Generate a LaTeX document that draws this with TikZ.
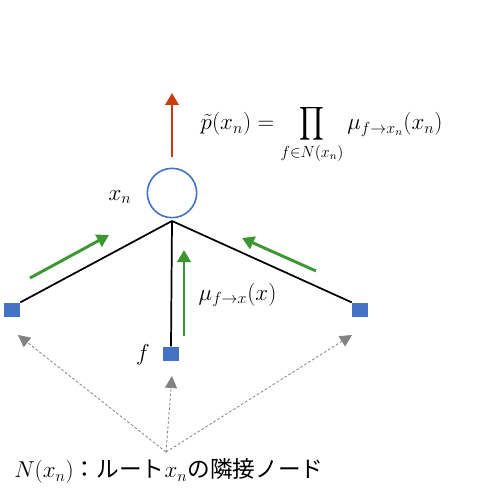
\documentclass[tikz,border=0pt]{standalone}
\usepackage{fontspec}
\usepackage{graphicx}
\newfontfamily\cjk{Noto Sans CJK JP}
\usetikzlibrary{arrows.meta}
\definecolor{nodeblue}{RGB}{68,114,196}
\definecolor{msggreen}{RGB}{60,150,50}
\definecolor{outred}{RGB}{200,60,20}
\definecolor{dashgray}{RGB}{130,130,130}
\newcommand{\bigprodsym}{\mathop{\vcenter{\hbox{\scalebox{1.45}[1.75]{$\displaystyle\prod$}}}}\limits}
\tikzset{
  fsq/.style={fill=nodeblue, minimum width=12pt, minimum height=11pt, inner sep=0pt},
  edge/.style={line width=1.3pt, black},
  msg/.style={line width=2.2pt, msggreen, -{Triangle[length=9pt,width=10pt]}},
  nbr/.style={dashed, dash pattern=on 2pt off 1.5pt, dashgray, line width=0.6pt, -{Triangle[length=9pt,width=9pt]}},
  lbl/.style={font=\fontsize{17}{19}\selectfont},
}
\begin{document}
\begin{tikzpicture}[x=0.75pt,y=-0.75pt]
\useasboundingbox (0,0) rectangle (477,499);
% root variable node
\node[draw=nodeblue, line width=1.2pt, circle, minimum size=37pt, inner sep=0pt] (xn) at (172,193) {};
\coordinate (j) at (172,221);
% factor nodes
\node[fsq] (fl) at (12,310) {};
\node[fsq] (fm) at (171,354) {};
\node[fsq] (fr) at (360,310) {};
% edges
\draw[edge] (j) -- (fl.north east);
\draw[edge] (j) -- (fm.north);
\draw[edge] (j) -- (fr.north west);
% output arrow
\coordinate (ro1) at (172,157);
\coordinate (ro2) at (172,93);
\draw[line width=2pt, outred, -{Triangle[length=9pt,width=10pt]}] (ro1) -- (ro2);
% green messages
\coordinate (gl1) at (30,278); \coordinate (gl2) at (109,235);
\coordinate (gm1) at (184,336); \coordinate (gm2) at (184,250);
\coordinate (gr1) at (316,271); \coordinate (gr2) at (242,238);
\draw[msg] (gl1) -- (gl2);
\draw[msg] (gm1) -- (gm2);
\draw[msg] (gr1) -- (gr2);
% labels
\node[lbl] (lxn) at (120,197) {$x_n$};
\node[lbl] (lf) at (143,355) {$f$};
\node[lbl, anchor=west] (lmu) at (194,295) {$\mu_{f\to x}(x)$};
\node[lbl, anchor=west] (eq) at (196,134) {$\tilde{p}(x_n)=\bigprodsym_{f\in N(x_n)}\mu_{f\to x_n}(x_n)$};
% neighbour annotation
\coordinate (src) at (166,452);
\draw[nbr] (src) -- (18,335);
\draw[nbr] (src) -- (172,376);
\draw[nbr] (src) -- (352,335);
\node[lbl, anchor=west, inner sep=0pt] (note) at (14,471) {$N(x_n)$\cjk ：ルート\normalfont$x_n$\cjk の隣接ノード};
\end{tikzpicture}
\end{document}
